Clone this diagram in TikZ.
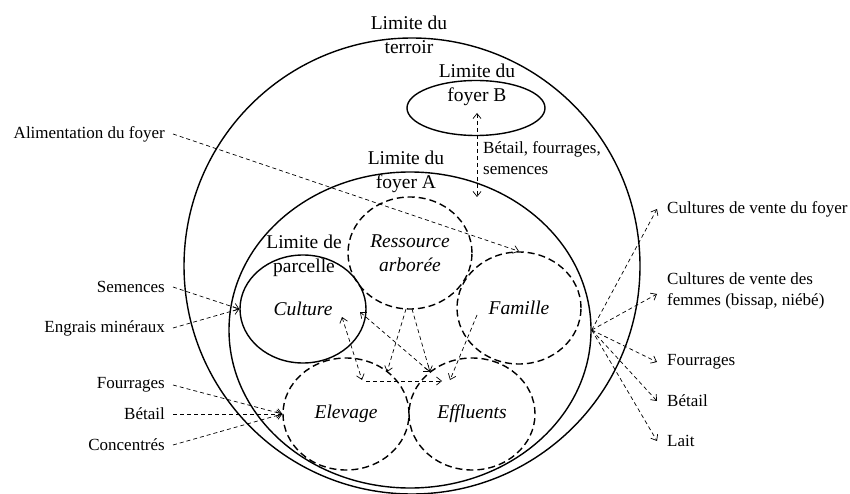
\documentclass[tikz,border=0pt]{standalone}
\usepackage{fontspec}
\setmainfont{Liberation Serif}
\usetikzlibrary{shapes.geometric,arrows.meta}

\begin{document}
\begin{tikzpicture}[x=1pt,y=-1pt,
    >={Straight Barb[length=5pt,width=8pt]},
    limite/.style={ellipse,draw,line width=1.4pt,inner sep=0pt},
    zone/.style={ellipse,draw,dash pattern=on 7pt off 4pt,line width=1.4pt,inner sep=0pt,
      align=center,font=\fontsize{19.5}{23.5}\selectfont\itshape},
    titre/.style={align=center,inner sep=0pt,font=\fontsize{19.5}{23.5}\selectfont},
    lbl/.style={inner sep=0pt,font=\fontsize{17}{21}\selectfont},
    flux/.style={->,dash pattern=on 4pt off 3pt,line width=0.7pt}]
  \useasboundingbox (0,0) rectangle (850,494);

  % limites
  \node[limite,minimum width=456pt,minimum height=456pt] (terroir) at (412,266) {};
  \node[limite,minimum width=362pt,minimum height=316pt] (foyerA) at (410,330) {};
  \node[limite,minimum width=138pt,minimum height=55pt] (foyerB) at (476,108) {};
  \node[limite,minimum width=126pt,minimum height=108pt,font=\fontsize{19.5}{23.5}\selectfont\itshape] (parcelle) at (303,309) {Culture};

  \node[titre] (tTerroir) at (409,35) {Limite du\\terroir};
  \node[titre] (tFoyerB) at (477,85) {Limite du\\foyer B};
  \node[titre] (tFoyerA) at (406,172) {Limite du\\foyer A};
  \node[titre] (tParcelle) at (304,256) {Limite de\\parcelle};

  % composantes
  \node[zone,minimum width=124pt,minimum height=112pt] (arbre) at (410,253) {Ressource\\arborée};
  \node[zone,minimum width=124pt,minimum height=112pt] (famille) at (519,308) {Famille};
  \node[zone,minimum width=126pt,minimum height=112pt] (elevage) at (346,414) {Elevage};
  \node[zone,minimum width=126pt,minimum height=112pt] (effluents) at (472,414) {Effluents};

  % entrees
  \node[lbl,anchor=east] (alim) at (165,134) {Alimentation du foyer};
  \node[lbl,anchor=east] (semIn) at (165,287) {Semences};
  \node[lbl,anchor=east] (engrais) at (165,328) {Engrais minéraux};
  \node[lbl,anchor=east] (fourIn) at (165,385) {Fourrages};
  \node[lbl,anchor=east] (betIn) at (165,414) {Bétail};
  \node[lbl,anchor=east] (conc) at (165,445) {Concentrés};

  % sorties
  \node[lbl,anchor=west] (venteFoyer) at (667,209) {Cultures de vente du foyer};
  \node[lbl,anchor=west,align=left] (venteFemmes) at (667,291) {Cultures de vente des\\femmes (bissap, niébé)};
  \node[lbl,anchor=west] (fourOut) at (667,362) {Fourrages};
  \node[lbl,anchor=west] (betOut) at (667,401) {Bétail};
  \node[lbl,anchor=west] (lait) at (667,441) {Lait};

  \node[lbl,anchor=west,align=left] (echange) at (483,158) {Bétail, fourrages,\\semences};

  % points internes
  \coordinate (bBas) at (477,113);
  \coordinate (aHaut) at (477,197);
  \coordinate (cuE) at (342,317);
  \coordinate (elC) at (362,380);
  \coordinate (cuF) at (360,312);
  \coordinate (efC) at (430,372);
  \coordinate (arL) at (406,309);
  \coordinate (elA) at (387,372);
  \coordinate (arR) at (412,309);
  \coordinate (faE) at (477,315);
  \coordinate (efF) at (450,380);
  \coordinate (elE) at (366,381);
  \coordinate (efE) at (442,381);

  \draw[flux] ([xshift=8pt]alim.east) -- (famille.north);
  \draw[flux] ([xshift=8pt]semIn.east) -- (parcelle.west);
  \draw[flux] ([xshift=8pt]engrais.east) -- (parcelle.west);
  \draw[flux] ([xshift=8pt]fourIn.east) -- (elevage.west);
  \draw[flux] ([xshift=8pt]betIn.east) -- (elevage.west);
  \draw[flux] ([xshift=8pt]conc.east) -- (elevage.west);

  \draw[flux] (foyerA.east) -- ([xshift=-10pt]venteFoyer.west);
  \draw[flux] (foyerA.east) -- ([xshift=-10pt,yshift=-3pt]venteFemmes.west);
  \draw[flux] (foyerA.east) -- ([xshift=-10pt]fourOut.west);
  \draw[flux] (foyerA.east) -- ([xshift=-10pt]betOut.west);
  \draw[flux] (foyerA.east) -- ([xshift=-10pt]lait.west);

  \draw[flux,<->] (bBas) -- (aHaut);
  \draw[flux,<->] (cuE) -- (elC);
  \draw[flux,<->] (cuF) -- (efC);
  \draw[flux] (arL) -- (elA);
  \draw[flux] (arR) -- (efC);
  \draw[flux] (faE) -- (efF);
  \draw[flux] (elE) -- (efE);
\end{tikzpicture}
\end{document}
